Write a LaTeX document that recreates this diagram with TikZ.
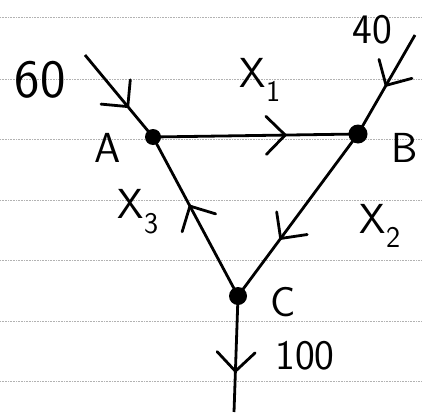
\documentclass[tikz,border=0pt]{standalone}
\usepackage{fontspec}
\usetikzlibrary{decorations.markings}
\newcommand{\mysub}[1]{\raisebox{-0.35em}{\fontsize{30}{30}\selectfont #1}}
\begin{document}
\begin{tikzpicture}[x=1pt,y=-1pt,
  rule/.style={gray!60,densely dotted,line width=0.6pt},
  flowline/.style={line width=2.8pt,black},
  midarrow/.style={postaction={decorate},decoration={markings,
      mark=at position #1 with {\draw[line width=2.8pt,line cap=round,line join=round]
        (-18pt,19pt) -- (1pt,0pt) -- (-18pt,-19pt);}}},
  junction/.style={circle,fill=black,inner sep=0pt,minimum size=#1},
  lbl/.style={font=\sffamily\fontsize{42}{42}\selectfont},
  biglbl/.style={font=\sffamily\fontsize{54}{54}\selectfont}]
\useasboundingbox (0,0) rectangle (422,412);
\fill[white] (0,0) rectangle (422,412);
% ruled paper
\foreach \y in {17,79,139,200,260,321,381}
  \draw[rule] (0,\y) -- (422,\y);
% junctions
\node[junction=16pt] (A) at (153,137) {};
\node[junction=19pt] (B) at (358,134) {};
\node[junction=18pt] (C) at (238,296) {};
\coordinate (in60) at (85,55);
\coordinate (in40) at (415,35);
\coordinate (out100) at (234,412);
% connectors
\draw[flowline,midarrow=0.62] (in60) -- (A.center);
\draw[flowline,midarrow=0.64] (A.center) -- (B.center);
\draw[flowline,midarrow=0.5] (in40) -- (B.center);
\draw[flowline,midarrow=0.64] (B.center) -- (C.center);
\draw[flowline,midarrow=0.56] (C.center) -- (A.center);
\draw[flowline,midarrow=0.64] (C.center) -- (out100);
% labels
\node[biglbl] (l60) at (40,80) {60};
\node[lbl] (l40) at (372,30) {40};
\node[lbl] (lA) at (108,148) {A};
\node[lbl] (lB) at (405,148) {B};
\node[lbl] (lC) at (283,302) {C};
\node[lbl] (lx1) at (260,80) {X\mysub{1}};
\node[lbl] (lx3) at (138,212) {X\mysub{3}};
\node[lbl] (lx2) at (380,226) {X\mysub{2}};
\node[lbl] (l100) at (305,356) {100};
\end{tikzpicture}
\end{document}
